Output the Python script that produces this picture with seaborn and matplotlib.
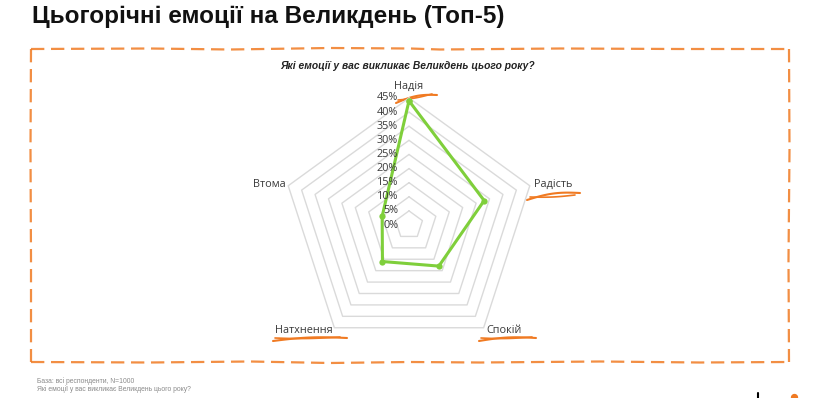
import numpy as np
import matplotlib
matplotlib.use("Agg")
import matplotlib.pyplot as plt
import seaborn as sns

# ---- data ----
categories = ["Надія", "Радість", "Спокій", "Натхнення", "Втома"]
values = [44, 28, 18, 16, 10]
ring_levels = [0, 5, 10, 15, 20, 25, 30, 35, 40, 45]
tick_labels = ["0%", "5%", "10%", "15%", "20%", "25%", "30%", "35%", "40%", "45%"]

title = "Цьогорічні емоції на Великдень (Топ-5)"
subtitle = "Які емоції у вас викликає Великдень цього року?"
foot1 = "База: всі респонденти, N=1000"
foot2 = "Які емоції у вас викликає Великдень цього року?"

GREEN = "#7fcf3b"
ORANGE = "#f07a22"
GRID = "#dadada"
TXT = "#3a3a3a"

sns.set_theme(style="white")
plt.rcParams["font.family"] = ["DejaVu Sans"]

W, H = 824, 398
fig = plt.figure(figsize=(W / 100, H / 100), dpi=100)

# overlay axes in pixel coords for decorations
ov = fig.add_axes([0, 0, 1, 1])
ov.set_xlim(0, W)
ov.set_ylim(H, 0)
ov.axis("off")

# ---- radar ----
cx, cy, R = 409, 225, 127
ax = fig.add_axes([(cx - R) / W, (H - cy - R) / H, 2 * R / W, 2 * R / H], projection="polar")
ax.set_theta_zero_location("N")
ax.set_theta_direction(-1)
ax.set_ylim(0, 45)
ax.grid(False)
ax.spines["polar"].set_visible(False)
ax.set_xticks([])
ax.set_yticks([])
ax.patch.set_alpha(0)

n = len(categories)
theta = np.arange(n) * 2 * np.pi / n
theta_c = np.append(theta, theta[0])

for lv in ring_levels[1:]:
    ax.plot(theta_c, [lv] * (n + 1), color=GRID, lw=1.0, zorder=1, clip_on=False)

vals_c = values + [values[0]]
sns.lineplot(x=theta_c, y=vals_c, sort=False, estimator=None, ax=ax,
             color=GREEN, lw=2.2, marker="o", markersize=4.5,
             markeredgewidth=0, zorder=3, clip_on=False)

for lv, lab in zip(ring_levels, tick_labels):
    ax.annotate(lab, xy=(0, lv), xytext=(-11, 0), textcoords="offset pixels",
                ha="right", va="center", fontsize=7.8, color=TXT,
                family="Open Sans", annotation_clip=False)

label_offsets = {
    "Надія": ((0, 12), "center"),
    "Радість": ((4, 1), "left"),
    "Спокій": ((3, -3), "left"),
    "Натхнення": ((-2, -3), "right"),
    "Втома": ((-3, 1), "right"),
}
for t, cat in zip(theta, categories):
    off, ha = label_offsets[cat]
    ax.annotate(cat, xy=(t, 45), xytext=off, textcoords="offset pixels",
                ha=ha, va="center", fontsize=7.8, color=TXT,
                family="Open Sans", annotation_clip=False)

# ---- texts ----
fig.text(32 / W, 1 - 17 / H, title, fontsize=17.5, fontweight="bold",
         family="Liberation Sans", color="#111111", va="center", ha="left")
fig.text(408 / W, 1 - 66 / H, subtitle, fontsize=7.4, fontweight="bold",
         style="italic", family="Liberation Sans", color="#222222",
         va="center", ha="center")
fig.text(37 / W, 1 - 381 / H, foot1, fontsize=4.9, family="Liberation Sans",
         color="#8a8a8a", va="center", ha="left")
fig.text(37 / W, 1 - 389 / H, foot2, fontsize=4.9, family="Liberation Sans",
         color="#8a8a8a", va="center", ha="left")

# ---- hand-drawn dashed frame ----
dash = (0, (6, 3))
top_x = [31, 150, 230, 330, 410, 440, 560, 680, 789]
top_y = [49, 48.5, 49.5, 48, 48.5, 49.5, 48.5, 49, 49]
ov.plot(top_x, top_y, color=ORANGE, lw=1.6, ls=dash, alpha=0.85)
bot_x = [31, 150, 250, 330, 410, 480, 600, 700, 789]
bot_y = [362, 362.5, 361.5, 363, 362, 362.5, 361.5, 362.5, 362]
ov.plot(bot_x, bot_y, color=ORANGE, lw=1.6, ls=dash, alpha=0.85)
ov.plot([31, 30.5, 31, 31], [49, 150, 260, 362], color=ORANGE, lw=1.6, ls=dash, alpha=0.85)
ov.plot([789, 789.5, 788.5, 789], [49, 150, 260, 362], color=ORANGE, lw=1.6, ls=dash, alpha=0.85)

# ---- orange swooshes under category labels ----
def swoosh(x0, y0, x1, y1, bend, lw=1.5):
    t = np.linspace(0, 1, 30)
    xs = x0 + (x1 - x0) * t
    ys = y0 + (y1 - y0) * t - bend * np.sin(np.pi * t)
    ov.plot(xs, ys, color=ORANGE, lw=lw, solid_capstyle="round")

swoosh(396, 103, 437, 95, 3); swoosh(398, 100, 432, 94, -1, 1.2)
swoosh(527, 200, 580, 193, 3); swoosh(530, 197, 575, 195, -1, 1.2)
swoosh(273, 341, 347, 338, 2); swoosh(275, 338, 340, 337, -1, 1.2)
swoosh(479, 341, 536, 338, 2); swoosh(481, 338, 532, 337, -1, 1.2)

# ---- logo fragments ----
ov.plot([758, 758], [393, 398], color="black", lw=1.5)
ov.scatter([794], [397], s=18, color=ORANGE)

fig.savefig("out.png", dpi=100)
